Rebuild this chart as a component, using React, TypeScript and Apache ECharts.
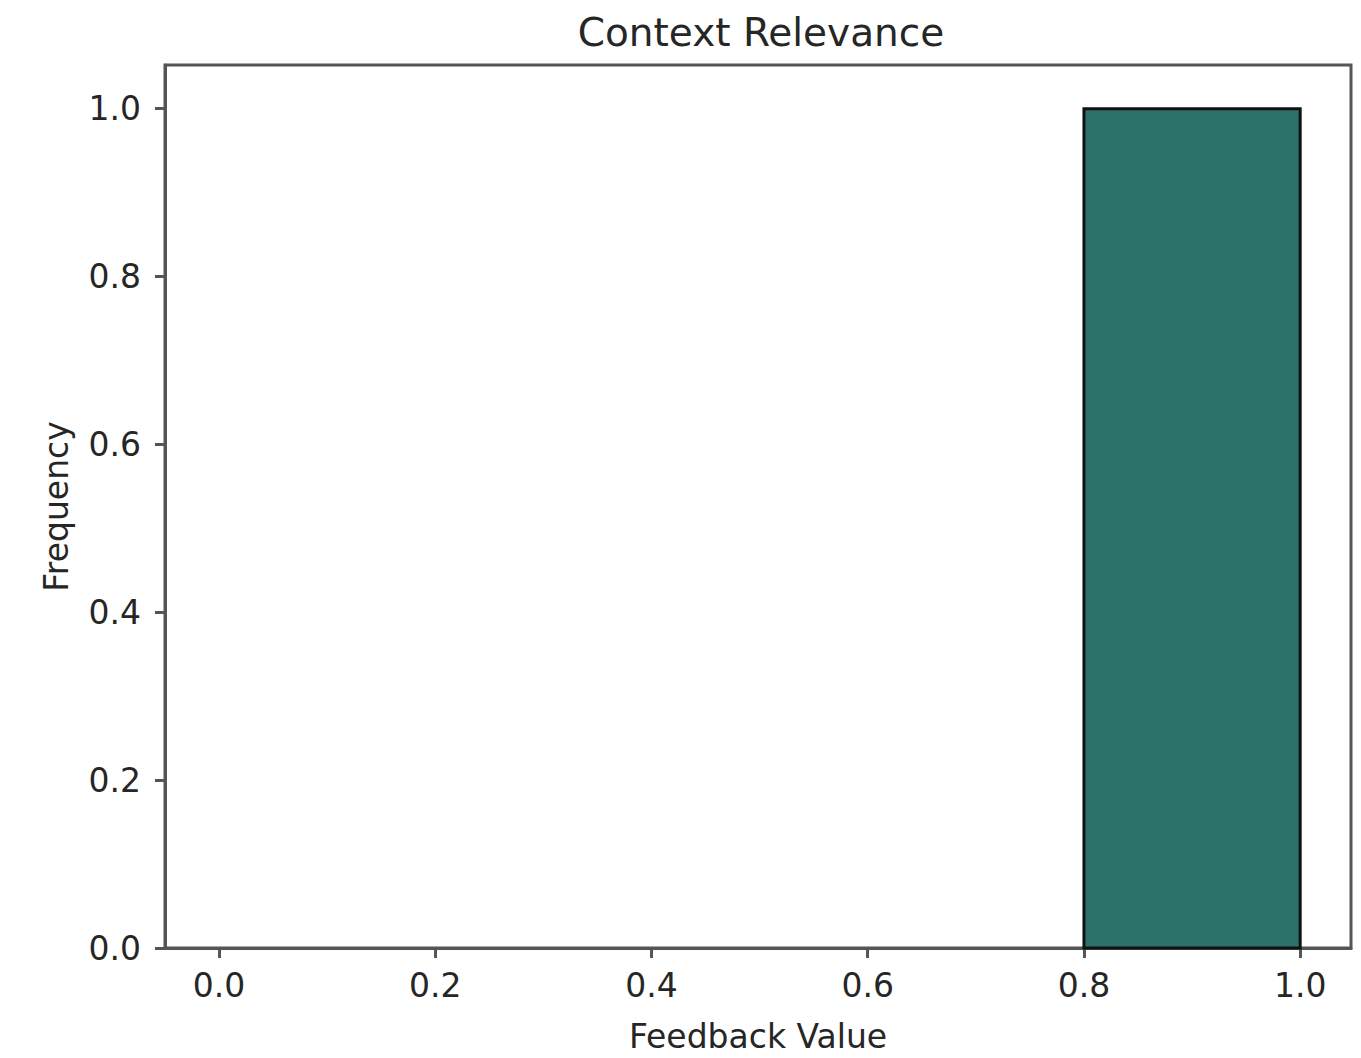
import React, { useEffect, useRef } from "react";
import * as echarts from "echarts";

const binEdges = [0.0, 0.2, 0.4, 0.6, 0.8, 1.0];
const binCounts = [0, 0, 0, 0, 1];
const xTicks = [0.0, 0.2, 0.4, 0.6, 0.8, 1.0];
const yTicks = [0.0, 0.2, 0.4, 0.6, 0.8, 1.0];

export default function App() {
  const ref = useRef<HTMLDivElement>(null);
  useEffect(() => {
    if (!ref.current) return;
    const chart = echarts.init(ref.current, undefined, { renderer: "svg" });
    const data = binCounts
      .map((c, i) => [binEdges[i], binEdges[i + 1], c])
      .filter((d) => d[2] > 0);
    const font = "DejaVu Sans";
    const txt = "#262626";
    const axisCol = "#555555";
    chart.setOption({
      animation: false,
      backgroundColor: "#ffffff",
      title: {
        text: "Context Relevance",
        left: 756,
        top: 8,
        textAlign: "center",
        textStyle: { fontFamily: font, fontSize: 39, fontWeight: "normal", color: txt },
      },
      grid: {
        left: 165,
        right: 10,
        top: 65,
        bottom: 103,
        show: true,
        borderColor: axisCol,
        borderWidth: 3,
        backgroundColor: "#ffffff",
      },
      xAxis: {
        type: "value",
        min: -0.05,
        max: 1.047,
        interval: 0.2,
        name: "Feedback Value",
        nameLocation: "middle",
        nameGap: 72,
        nameTextStyle: { fontFamily: font, fontSize: 33, color: txt },
        axisLine: { show: true, onZero: false, lineStyle: { color: axisCol, width: 3 } },
        axisTick: { show: true, length: 10, lineStyle: { color: axisCol, width: 3 }, customValues: xTicks },
        axisLabel: {
          fontFamily: font,
          fontSize: 33,
          color: txt,
          margin: 21,
          customValues: xTicks,
          formatter: (v: number) => v.toFixed(1),
        },
        splitLine: { show: false },
      },
      yAxis: {
        type: "value",
        min: 0,
        max: 1.052,
        name: "Frequency",
        nameLocation: "middle",
        nameGap: 92,
        nameRotate: 90,
        nameTextStyle: { fontFamily: font, fontSize: 33, color: txt },
        axisLine: { show: true, onZero: false, lineStyle: { color: axisCol, width: 3 } },
        axisTick: { show: true, length: 10, lineStyle: { color: axisCol, width: 3 }, customValues: yTicks },
        axisLabel: {
          fontFamily: font,
          fontSize: 33,
          color: txt,
          margin: 24,
          customValues: yTicks,
          formatter: (v: number) => v.toFixed(1),
        },
        splitLine: { show: false },
      },
      series: [
        {
          type: "custom",
          data,
          encode: { x: [0, 1], y: 2 },
          renderItem: (params: any, api: any) => {
            const p0 = api.coord([api.value(0), 0]);
            const p1 = api.coord([api.value(1), api.value(2)]);
            return {
              type: "rect",
              shape: { x: p0[0], y: p1[1], width: p1[0] - p0[0], height: p0[1] - p1[1] },
              style: { fill: "#2d7268", stroke: "#111111", lineWidth: 3 },
            };
          },
        },
      ],
    });
    return () => chart.dispose();
  }, []);
  return (
    <div
      ref={ref}
      style={{ position: "absolute", left: 0, top: 0, width: 1361, height: 1058 }}
    />
  );
}
